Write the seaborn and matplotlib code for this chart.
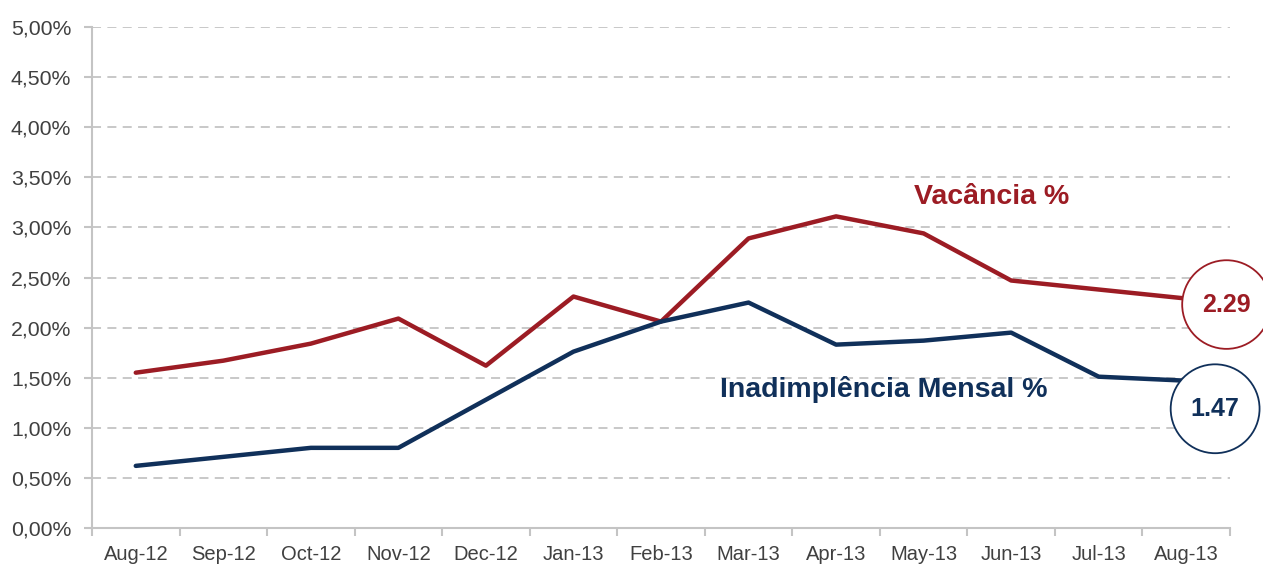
import pandas as pd
import matplotlib
matplotlib.use("Agg")
import matplotlib.pyplot as plt
import matplotlib.ticker as mticker
import seaborn as sns

months = ["Aug-12", "Sep-12", "Oct-12", "Nov-12", "Dec-12", "Jan-13", "Feb-13",
          "Mar-13", "Apr-13", "May-13", "Jun-13", "Jul-13", "Aug-13"]
vacancia = [1.55, 1.67, 1.84, 2.09, 1.62, 2.31, 2.06, 2.89, 3.11, 2.94, 2.47, 2.38, 2.29]
inadimplencia = [0.62, 0.71, 0.80, 0.80, 1.28, 1.76, 2.06, 2.25, 1.83, 1.87, 1.95, 1.51, 1.47]
y_ticks = [0, 0.5, 1.0, 1.5, 2.0, 2.5, 3.0, 3.5, 4.0, 4.5, 5.0]

RED = "#9C1C24"
NAVY = "#10305A"
GRAY = "#C4C4C4"
TEXT = "#404040"

sns.set_theme(style="white")
plt.rcParams["font.family"] = ["Liberation Sans", "DejaVu Sans"]

df = pd.DataFrame({"Mes": months, "Vacancia": vacancia, "Inadimplencia": inadimplencia})

fig = plt.figure(figsize=(12.63, 5.66), dpi=100)
ax = fig.add_axes([92 / 1263, 38 / 566, (1230 - 92) / 1263, (528 - 27) / 566])

sns.lineplot(data=df, x="Mes", y="Vacancia", color=RED, linewidth=3.2, ax=ax, sort=False)
sns.lineplot(data=df, x="Mes", y="Inadimplencia", color=NAVY, linewidth=3.2, ax=ax, sort=False)

ax.set_xlim(-0.5, len(months) - 0.5)
ax.set_ylim(0, 5)
ax.set_yticks(y_ticks)
ax.yaxis.set_major_formatter(mticker.FuncFormatter(lambda v, p: f"{v:.2f}%".replace(".", ",")))
ax.set_xlabel("")
ax.set_ylabel("")

# gridlines
for y in y_ticks[1:]:
    ax.axhline(y, color=GRAY, linestyle=(0, (5, 3.5)), linewidth=1.3, zorder=0)

for side in ["top", "right"]:
    ax.spines[side].set_visible(False)
for side in ["left", "bottom"]:
    ax.spines[side].set_color(GRAY)
    ax.spines[side].set_linewidth(1.5)

ax.set_xticks(range(len(months)))
ax.set_xticklabels(months)
ax.set_xticks([i - 0.5 for i in range(len(months) + 1)], minor=True)
ax.tick_params(axis="x", which="major", length=0, pad=12, labelsize=14.5, labelcolor=TEXT)
ax.tick_params(axis="x", which="minor", length=6, width=1.5, color=GRAY, direction="out")
ax.tick_params(axis="y", which="major", length=6, width=1.5, color=GRAY, direction="out",
               pad=9, labelsize=15.3, labelcolor=TEXT)
ax.tick_params(bottom=True, left=True, which="both")

ax.text(9.78, 3.30, "Vacância %", color=RED, fontsize=20.5, fontweight="bold",
        ha="center", va="center")
ax.text(8.54, 1.38, "Inadimplência Mensal %", color=NAVY, fontsize=20.5, fontweight="bold",
        ha="center", va="center")

ax.text(12.46, 2.23, f"{vacancia[-1]:.2f}", color=RED, fontsize=18, fontweight="bold",
        ha="center", va="center", clip_on=False,
        bbox=dict(boxstyle="circle,pad=0.8", fc="white", ec=RED, lw=1.3))
ax.text(12.33, 1.19, f"{inadimplencia[-1]:.2f}", color=NAVY, fontsize=18, fontweight="bold",
        ha="center", va="center", clip_on=False,
        bbox=dict(boxstyle="circle,pad=0.8", fc="white", ec=NAVY, lw=1.3))

fig.savefig("out.png", dpi=100)
